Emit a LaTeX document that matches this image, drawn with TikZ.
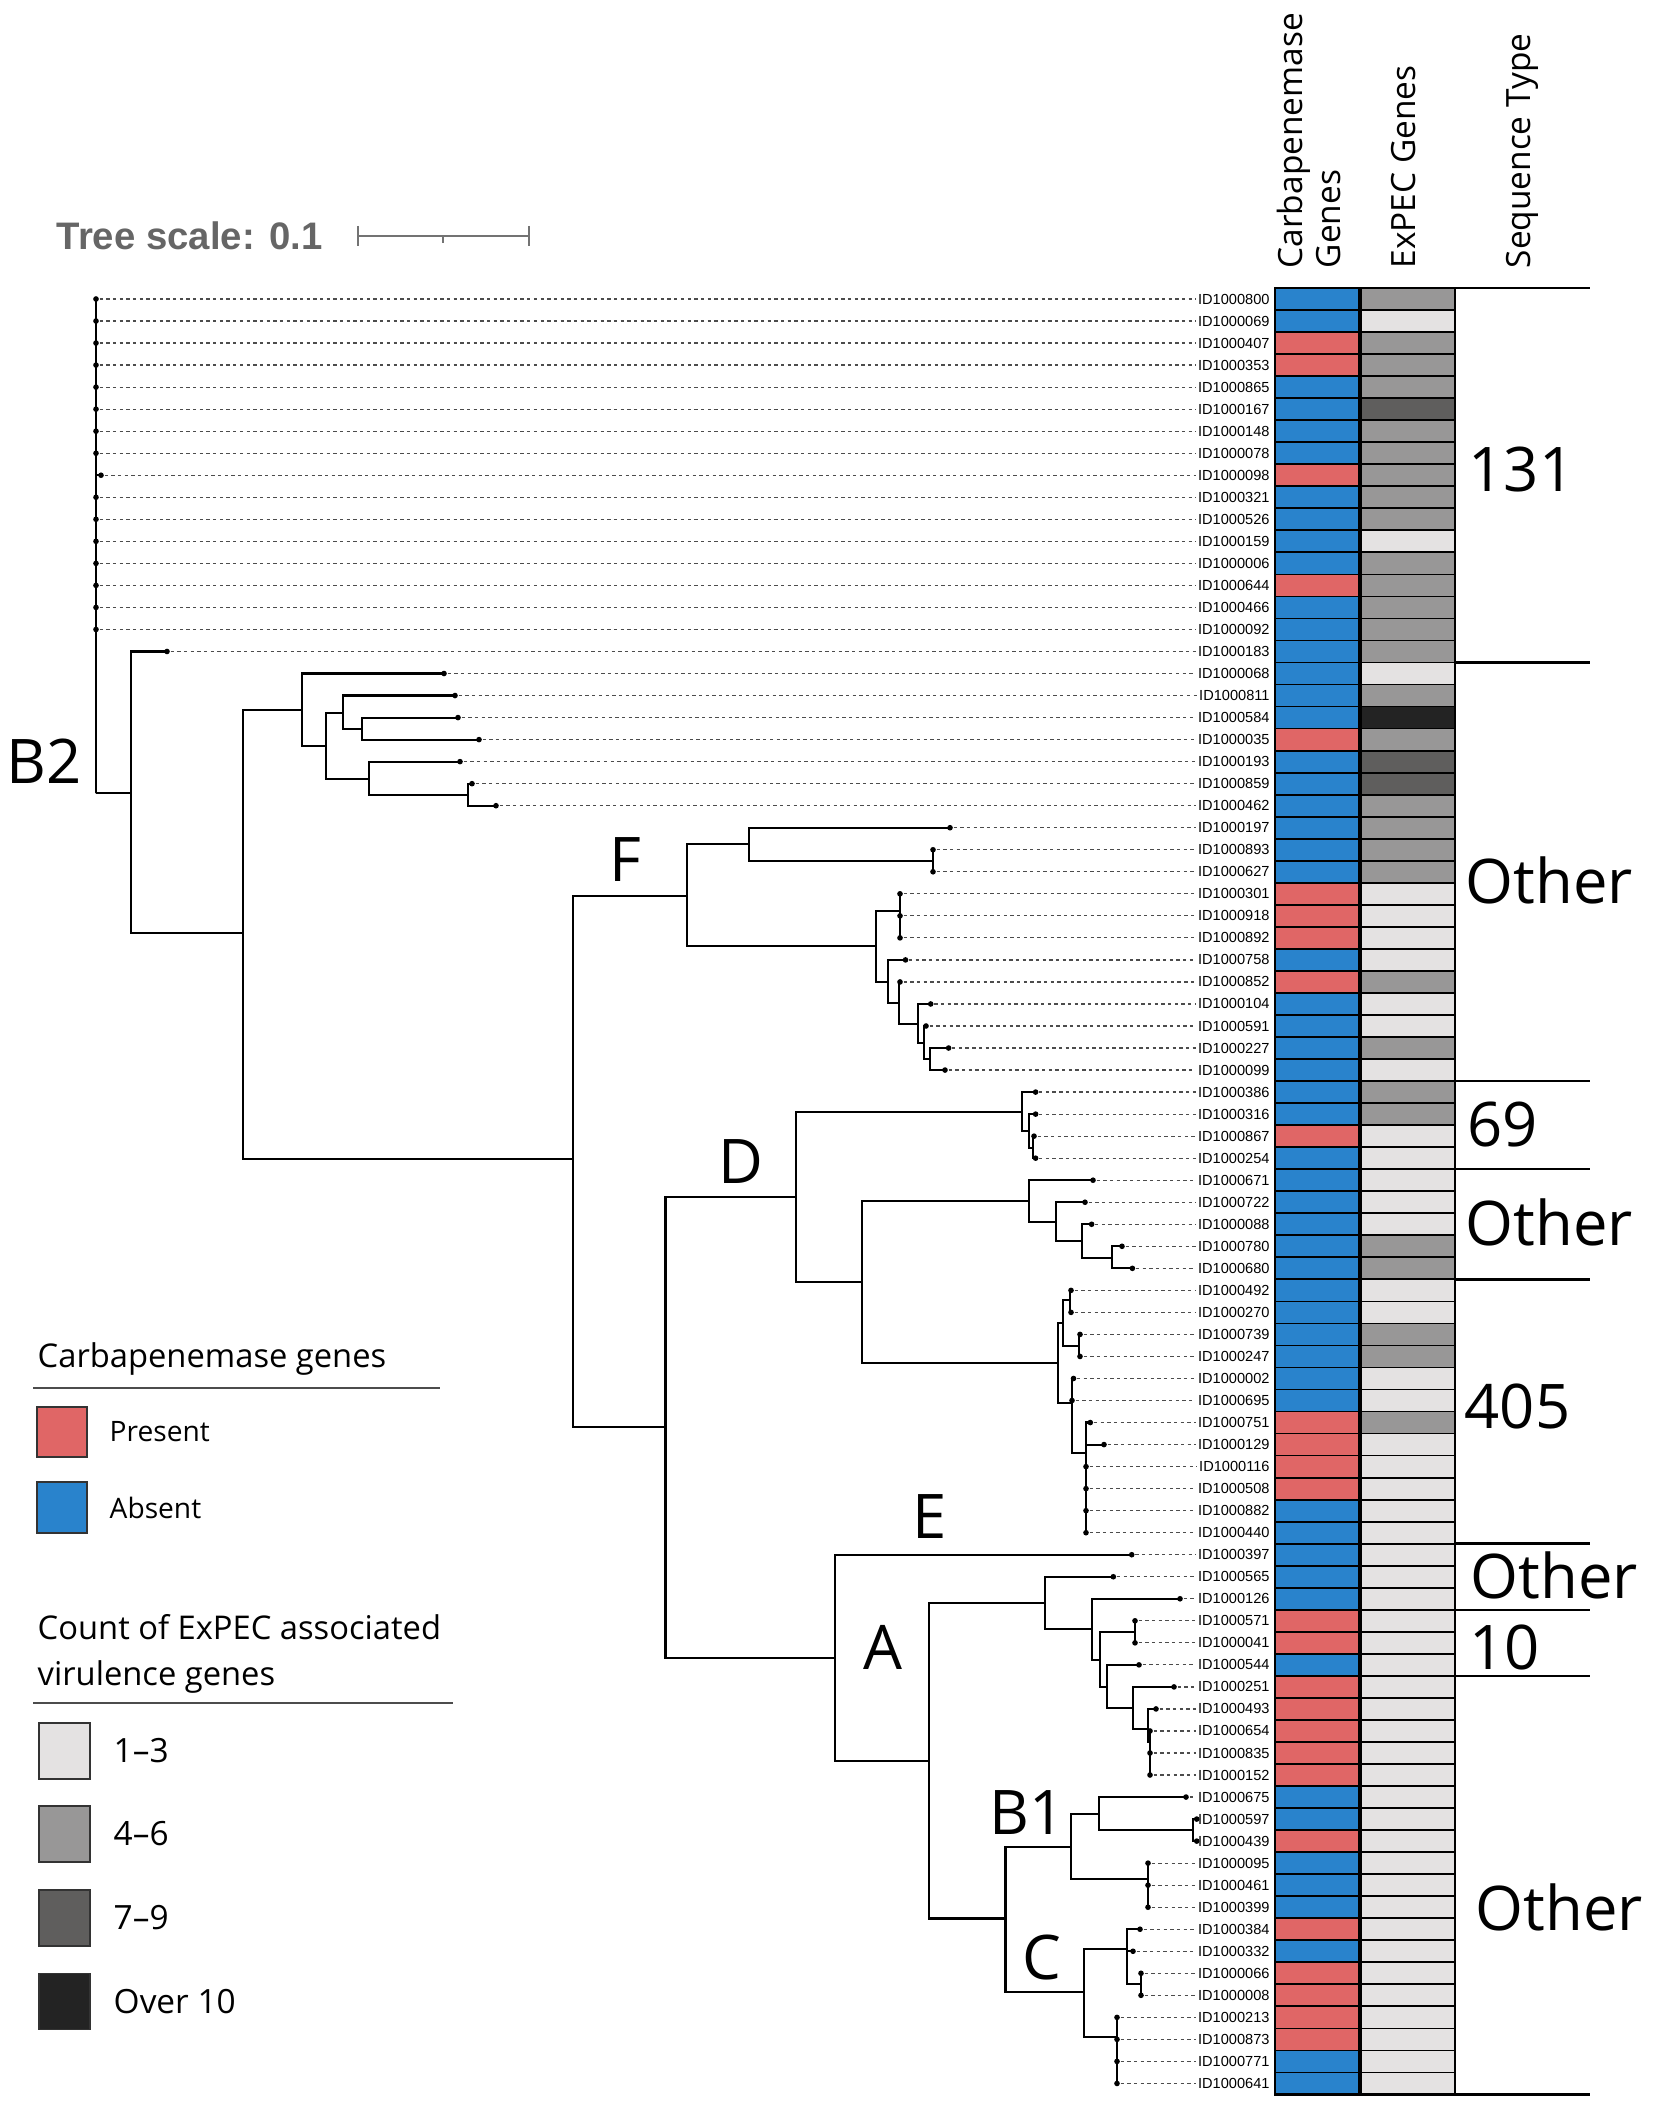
\documentclass[tikz,border=0pt]{standalone}
\usepackage{fontspec}
\setmainfont{Open Sans}
\newfontfamily\tipfont{Liberation Sans}
\usetikzlibrary{positioning}

\definecolor{carbR}{RGB}{224,102,102}
\definecolor{carbB}{RGB}{41,131,204}
\definecolor{vg1}{RGB}{228,226,226}
\definecolor{vg2}{RGB}{152,151,151}
\definecolor{vg3}{RGB}{95,94,93}
\definecolor{vg4}{RGB}{35,35,35}

\begin{document}
\begin{tikzpicture}
    [
    x=0.01cm, y=-0.01cm,
    leaf/.style={circle,fill=black,inner sep=0pt,minimum size=1.6pt},
    branch/.style={line width=0.6pt},
    leader/.style={line width=0.35pt,black!70,dash pattern=on 0.95pt off 0.95pt},
    tiplabel/.style={anchor=east,inner sep=0.5pt,font=\tipfont\fontsize{4.15}{5}\selectfont},
    cell/.style={draw=black,line width=0.5pt},
    clade/.style={inner sep=0pt,font=\fontsize{17.5}{20}\selectfont},
    stlabel/.style={anchor=west,inner sep=0pt,font=\fontsize{17.5}{20}\selectfont},
    stline/.style={line width=0.7pt},
    header/.style={rotate=90,anchor=base west,inner sep=0pt,font=\fontsize{9.5}{11}\selectfont},
    scaletext/.style={anchor=base west,inner sep=0pt,text=black!60,font=\tipfont\bfseries\fontsize{10.9}{13}\selectfont},
    scalebar/.style={line width=0.8pt,black!55},
    legtitle/.style={anchor=base west,inner sep=0pt,font=\fontsize{9.3}{11}\selectfont},
    legrule/.style={line width=0.45pt,black!70},
    legbox/.style={draw=black!80,line width=0.4pt,inner sep=0pt,outer sep=0pt,minimum width=0.5cm,minimum height=0.5cm},
    vgbox/.style={legbox,minimum width=0.51cm,minimum height=0.56cm},
    legtext/.style={anchor=west,inner sep=0pt,font=\fontsize{8}{10}\selectfont},
    legnum/.style={anchor=west,inner sep=0pt,font=\fontsize{9.5}{11}\selectfont},
    ]
    \useasboundingbox (0,0) rectangle (1653,2106);

    % rows: number/id/tip x/carbapenemase/ExPEC count
    \foreach \i/\id/\lx/\cg/\vg in {
      1/800/96/B/2, 2/069/96/B/1, 3/407/96/R/2, 4/353/96/R/2, 5/865/96/B/2,
      6/167/96/B/3, 7/148/96/B/2, 8/078/96/B/2, 9/098/101/R/2, 10/321/96/B/2,
      11/526/96/B/2, 12/159/96/B/1, 13/006/96/B/2, 14/644/96/R/2, 15/466/96/B/2,
      16/092/96/B/2, 17/183/167/B/2, 18/068/444/B/1, 19/811/455/B/2, 20/584/458/B/4,
      21/035/479/R/2, 22/193/460/B/3, 23/859/472/B/3, 24/462/496/B/2, 25/197/950/B/2,
      26/893/933/B/2, 27/627/933/B/2, 28/301/900/R/1, 29/918/900/R/1, 30/892/900/R/1,
      31/758/905.5/B/1, 32/852/900/R/2, 33/104/930.7/B/1, 34/591/926/B/1, 35/227/948.6/B/2,
      36/099/945/B/1, 37/386/1035.6/B/2, 38/316/1035.6/B/2, 39/867/1034/R/1, 40/254/1035.6/B/1,
      41/671/1093/B/1, 42/722/1085/B/1, 43/088/1091.6/B/1, 44/780/1122/B/2, 45/680/1132.4/B/2,
      46/492/1071/B/1, 47/270/1071/B/1, 48/739/1080/B/2, 49/247/1080/B/2, 50/002/1073.5/B/1,
      51/695/1072/B/1, 52/751/1090.3/R/2, 53/129/1104/R/1, 54/116/1086/R/1, 55/508/1086/R/1,
      56/882/1086/B/1, 57/440/1086/B/1, 58/397/1131.7/B/1, 59/565/1113.3/B/1, 60/126/1180/B/1,
      61/571/1135/R/1, 62/041/1135/R/1, 63/544/1139/B/1, 64/251/1174/R/1, 65/493/1156/R/1,
      66/654/1150/R/1, 67/835/1150/R/1, 68/152/1150/R/1, 69/675/1186/B/1, 70/597/1196.7/B/1,
      71/439/1196.7/R/1, 72/095/1148/B/1, 73/461/1148/B/1, 74/399/1148/B/1, 75/384/1140/R/1,
      76/332/1133/B/1, 77/066/1141/R/1, 78/008/1141/R/1, 79/213/1117/R/1, 80/873/1117/R/1,
      81/771/1117/B/1, 82/641/1117/B/1}
    {
      \pgfmathsetmacro{\ry}{299+(\i-1)*22.03}
      \filldraw [cell, fill=carb\cg] (1275,\ry-11.015) rectangle (1360,\ry+11.015);
      \filldraw [cell, fill=vg\vg] (1360,\ry-11.015) rectangle (1455,\ry+11.015);
      \node (L\i) at (\lx,\ry) [leaf] {};
      \node (T\i) at (1272,\ry) [tiplabel] {ID1000\id};
      \draw [leader] (L\i) -- (T\i);
    }
    \draw [line width=1pt] (1360,288) -- (1360,2094.5);
    \draw [line width=0.8pt] (1275,288) rectangle (1455,2094.5);

    % inner nodes of the tree
    \coordinate (nR) at (96,793);
    \coordinate (n1) at (131,793);
    \coordinate (n2) at (243,933);
    \coordinate (nK) at (302,710);
    \coordinate (nK1) at (326,746);
    \coordinate (nK2) at (343,712.7);
    \coordinate (nK3) at (369,778.6);
    \coordinate (nK4) at (362,729);
    \coordinate (nK5) at (468,795);
    \coordinate (nC) at (573,1159);
    \coordinate (nF) at (687,895.7);
    \coordinate (nF1) at (749,844);
    \coordinate (nF2) at (876,945.7);
    \coordinate (nF3) at (933,861);
    \coordinate (nF4) at (900,910.7);
    \coordinate (nF5) at (888,981.7);
    \coordinate (nF6) at (898.7,1002.7);
    \coordinate (nF7) at (918,1024);
    \coordinate (nF8) at (924,1042.7);
    \coordinate (nF9) at (930,1059);
    \coordinate (nDA) at (665.5,1427);
    \coordinate (nD) at (795.7,1196.7);
    \coordinate (nD1) at (1022,1111.7);
    \coordinate (nD2) at (861.8,1282.3);
    \coordinate (nD3) at (1029,1131);
    \coordinate (nD4) at (1032.7,1148);
    \coordinate (nD5) at (1029.3,1201);
    \coordinate (nD6) at (1058,1363.3);
    \coordinate (nD7) at (1055.8,1221.7);
    \coordinate (nD8) at (1082,1241);
    \coordinate (nD9) at (1112,1257.7);
    \coordinate (nD10) at (1063,1323.3);
    \coordinate (nD11) at (1072,1402.7);
    \coordinate (nD12) at (1070,1300);
    \coordinate (nD13) at (1079,1346);
    \coordinate (nD14) at (1086,1452.7);
    \coordinate (nA) at (835,1657.7);
    \coordinate (nA1) at (929,1760.7);
    \coordinate (nA2) at (1045,1603.3);
    \coordinate (nA3) at (1092.3,1629.3);
    \coordinate (nA4) at (1100,1660);
    \coordinate (nA5) at (1135,1632.3);
    \coordinate (nA6) at (1106.7,1686.7);
    \coordinate (nA7) at (1133.3,1708.3);
    \coordinate (nA8) at (1148,1729);
    \coordinate (nA9) at (1150,1742);
    \coordinate (nBC) at (1005.5,1918.5);
    \coordinate (nBa) at (1070.7,1846.7);
    \coordinate (nBa1) at (1099,1814);
    \coordinate (nBa2) at (1148.3,1879.3);
    \coordinate (nBa3) at (1193.3,1830);
    \coordinate (nCc) at (1084.3,1992.3);
    \coordinate (nC1) at (1127,1949);
    \coordinate (nC2) at (1117.3,2036.7);
    \coordinate (nC3) at (1141,1984);

    % branches
    \foreach \i in {1,...,16}
      \draw [branch] (nR) |- (L\i.center);
    \foreach \p/\c in {nR/n1, n1/L17, n1/n2, n2/nK, n2/nC,
      nK/L18, nK/nK1, nK1/nK2, nK1/nK3, nK2/L19, nK2/nK4, nK4/L20, nK4/L21,
      nK3/L22, nK3/nK5, nK5/L23, nK5/L24,
      nC/nF, nC/nDA, nF/nF1, nF/nF2, nF1/L25, nF1/nF3, nF3/L26, nF3/L27,
      nF2/nF4, nF2/nF5, nF4/L28, nF4/L29, nF4/L30, nF5/L31, nF5/nF6,
      nF6/L32, nF6/nF7, nF7/L33, nF7/nF8, nF8/L34, nF8/nF9, nF9/L35, nF9/L36,
      nDA/nD, nDA/nA, nD/nD1, nD/nD2, nD1/L37, nD1/nD3, nD3/L38, nD3/nD4,
      nD4/L39, nD4/L40, nD2/nD5, nD2/nD6, nD5/L41, nD5/nD7, nD7/L42, nD7/nD8,
      nD8/L43, nD8/nD9, nD9/L44, nD9/L45, nD6/nD10, nD6/nD11, nD10/nD12, nD10/nD13,
      nD12/L46, nD12/L47, nD13/L48, nD13/L49, nD11/L50, nD11/L51, nD11/nD14,
      nD14/L52, nD14/L53, nD14/L54, nD14/L55, nD14/L56, nD14/L57,
      nA/L58, nA/nA1, nA1/nA2, nA1/nBC, nA2/L59, nA2/nA3, nA3/L60, nA3/nA4,
      nA4/nA5, nA4/nA6, nA5/L61, nA5/L62, nA6/L63, nA6/nA7, nA7/L64, nA7/nA8,
      nA8/L65, nA8/nA9, nA9/L66, nA9/L67, nA9/L68,
      nBC/nBa, nBC/nCc, nBa/nBa1, nBa/nBa2, nBa1/L69, nBa1/nBa3, nBa3/L70, nBa3/L71,
      nBa2/L72, nBa2/L73, nBa2/L74, nCc/nC1, nCc/nC2, nC1/L75, nC1/L76, nC1/nC3,
      nC3/L77, nC3/L78, nC2/L79, nC2/L80, nC2/L81, nC2/L82}
      \draw [branch] (\p) |- (\c.center);

    % clade names
    \node (lblB2) at (44,761) [clade] {B2};
    \node (lblF) at (625,860) [clade] {F};
    \node (lblD) at (741,1162) [clade] {D};
    \node (lblE) at (930,1517) [clade] {E};
    \node (lblA) at (883,1647) [clade] {A};
    \node (lblB1) at (1027,1813) [clade] {B1};
    \node (lblC) at (1042,1957) [clade] {C};

    % sequence types
    \foreach \k in {0,17,36,40,45,57,60,63,82}
      \draw [stline] (1455,288+\k*22.03) -- (1590,288+\k*22.03);
    \node (st131) at (1468,470) [stlabel] {131};
    \node (stO1) at (1465,880) [stlabel] {Other};
    \node (st69) at (1467,1125) [stlabel] {69};
    \node (stO2) at (1465,1222) [stlabel] {Other};
    \node (st405) at (1464,1406) [stlabel] {405};
    \node (stO3) at (1470,1575) [stlabel] {Other};
    \node (st10) at (1469,1647) [stlabel] {10};
    \node (stO4) at (1475,1907) [stlabel] {Other};

    % column heads
    \node (hdCarb) at (1302,269) [header] {Carbapenemase};
    \node (hdCarbB) at (1340,269) [header] {Genes};
    \node (hdVir) at (1415,269) [header] {ExPEC Genes};
    \node (hdST) at (1530,269) [header] {Sequence Type};

    % tree scale
    \node (tscale) at (56,250) [scaletext] {Tree scale: 0.1};
    \draw [scalebar] (358,236) -- (529,236) (358,226) -- (358,246)
      (529,226) -- (529,246) (443,236) -- (443,243);

    % legend
    \node (legCarb) at (37,1367) [legtitle] {Carbapenemase genes};
    \draw [legrule] (33,1388) -- (440,1388);
    \node (boxPres) at (62,1432) [legbox, fill=carbR] {};
    \node (txtPres) [legtext, right=0.22cm of boxPres] {Present};
    \node (boxAbs) at (62,1507.5) [legbox, fill=carbB, minimum height=0.51cm] {};
    \node (txtAbs) [legtext, right=0.22cm of boxAbs] {Absent};

    \node (legVir) at (37,1639) [legtitle] {Count of ExPEC associated};
    \node (legVirB) at (37,1685) [legtitle] {virulence genes};
    \draw [legrule] (33,1703) -- (453,1703);
    \node (boxLow) at (64.5,1751) [vgbox, fill=vg1] {};
    \node (txtLow) [legnum, right=0.23cm of boxLow] {1--3};
    \node (boxMid) at (64.5,1834) [vgbox, fill=vg2] {};
    \node (txtMid) [legnum, right=0.23cm of boxMid] {4--6};
    \node (boxHigh) at (64.5,1918) [vgbox, fill=vg3] {};
    \node (txtHigh) [legnum, right=0.23cm of boxHigh] {7--9};
    \node (boxTop) at (64.5,2001.75) [vgbox, fill=vg4] {};
    \node (txtTop) [legnum, right=0.23cm of boxTop] {Over 10};
\end{tikzpicture}
\end{document}
